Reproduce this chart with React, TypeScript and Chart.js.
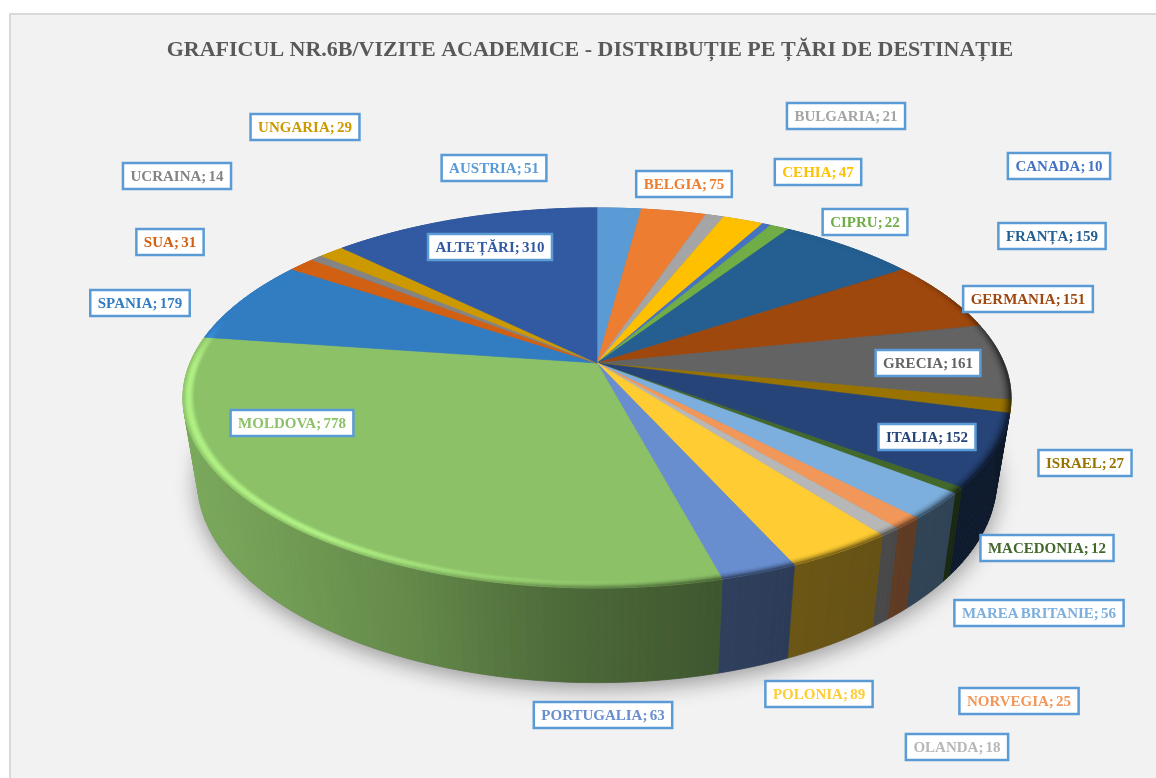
import React, { useEffect, useRef } from "react";
import { Chart, registerables } from "chart.js";

Chart.register(...registerables);

const TITLE = "GRAFICUL NR.6B/VIZITE ACADEMICE - DISTRIBUȚIE PE ȚĂRI DE DESTINAȚIE";
const categories = ["AUSTRIA", "BELGIA", "BULGARIA", "CEHIA", "CANADA", "CIPRU", "FRANȚA", "GERMANIA", "GRECIA", "ISRAEL", "ITALIA", "MACEDONIA", "MAREA BRITANIE", "NORVEGIA", "OLANDA", "POLONIA", "PORTUGALIA", "MOLDOVA", "SPANIA", "SUA", "UCRAINA", "UNGARIA", "ALTE ȚĂRI"];
const values = [51, 75, 21, 47, 10, 22, 159, 151, 161, 27, 152, 12, 56, 25, 18, 89, 63, 778, 179, 31, 14, 29, 310];
const colors = ["#5B9BD5", "#ED7D31", "#A5A5A5", "#FFC000", "#4472C4", "#70AD47", "#255E91", "#9E480E", "#636363", "#997300", "#264478", "#43682B", "#7CAFDD", "#F1975A", "#B7B7B7", "#FFCD33", "#698ED0", "#8CC168", "#327DC2", "#D26012", "#848484", "#CC9A00", "#325AA2"];
// centres of the label boxes, in page pixels
const labelCentres: [number, number][] = [[494, 168], [684, 184], [846, 116], [818, 172], [1059, 166], [865, 222], [1052, 236], [1028, 299], [928, 363], [1085, 463], [927, 437], [1047, 548], [1039, 613], [1019, 701], [957, 747], [819, 694], [603, 715], [292, 423], [140, 303], [170, 242], [177, 176], [305, 127], [490, 247]];

const CX = 597, CY = 363, RX = 407, RY = 183.6, PERSP = 0.184;
const BEVEL = 0.026;

type P = [number, number];
const proj = (r: number, a: number): P => {
  const u = r * Math.cos(a), v = r * Math.sin(a), w = 1 - PERSP * v;
  return [CX + (RX * u) / w, CY + (RY * v) / w];
};
const lower = (p: P): P => [CX + 0.965 * (p[0] - CX), CY + 1.065 * (p[1] - CY) + 80];
const rgb = (h: string): number[] => [1, 3, 5].map((i) => parseInt(h.slice(i, i + 2), 16));
const css = (c: number[]) => `rgb(${c.map((x) => Math.min(255, Math.round(x))).join(",")})`;
const mix = (a: number[], b: number[], t: number) => a.map((x, i) => x + (b[i] - x) * t);
const WALL: [number, number][] = [[190, 0.88], [400, 0.72], [560, 0.55], [720, 0.45], [800, 0.42], [1000, 0.37]];
const wallFactor = (x: number) => {
  if (x <= WALL[0][0]) return WALL[0][1];
  for (let i = 1; i < WALL.length; i++) {
    if (x <= WALL[i][0]) {
      const t = (x - WALL[i - 1][0]) / (WALL[i][0] - WALL[i - 1][0]);
      return WALL[i - 1][1] + (WALL[i][1] - WALL[i - 1][1]) * t;
    }
  }
  return WALL[WALL.length - 1][1];
};
const quad = (ctx: CanvasRenderingContext2D, pts: P[], fill: string) => {
  ctx.beginPath();
  pts.forEach((p, i) => (i ? ctx.lineTo(p[0], p[1]) : ctx.moveTo(p[0], p[1])));
  ctx.closePath();
  ctx.fillStyle = fill;
  ctx.strokeStyle = fill;
  ctx.lineWidth = 0.6;
  ctx.fill();
  ctx.stroke();
};
const STEP = Math.PI / 180;
const segments = (s: number, e: number) => {
  const n = Math.max(1, Math.ceil((e - s) / STEP));
  return Array.from({ length: n }, (_, i) => [s + ((e - s) * i) / n, s + ((e - s) * (i + 1)) / n]);
};
const clamp01 = (x: number) => Math.max(0, Math.min(1, x));

const pie3d = {
  id: "pie3d",
  beforeDraw(chart: any) {
    const ctx = chart.ctx as CanvasRenderingContext2D;
    ctx.save();
    ctx.fillStyle = "#ffffff";
    ctx.fillRect(0, 0, chart.width, chart.height);
    ctx.fillStyle = "#f2f2f2";
    ctx.fillRect(10, 14, chart.width, chart.height);
    ctx.strokeStyle = "#d9d9d9";
    ctx.lineWidth = 2;
    ctx.strokeRect(10, 14, chart.width + 20, chart.height + 20);
    ctx.restore();
  },
  beforeDatasetDraw(chart: any) {
    const ctx = chart.ctx as CanvasRenderingContext2D;
    const arcs = chart.getDatasetMeta(0).data as any[];
    ctx.save();
    // soft shadow under the disc
    const outline: P[] = [];
    for (let i = 0; i <= 360; i++) outline.push(lower(proj(1, (i * Math.PI) / 180)));
    ctx.save();
    ctx.shadowColor = "rgba(0,0,0,0.38)";
    ctx.shadowBlur = 22;
    ctx.shadowOffsetX = 0;
    ctx.shadowOffsetY = 5;
    quad(ctx, outline, "#777777");
    ctx.restore();
    // side walls
    arcs.forEach((arc, idx) => {
      const base = rgb(colors[idx]);
      segments(arc.startAngle, arc.endAngle).forEach(([a, b]) => {
        const pa = proj(1, a), pb = proj(1, b);
        const f = wallFactor((pa[0] + pb[0]) / 2);
        quad(ctx, [pa, pb, lower(pb), lower(pa)], css(base.map((c) => c * f)));
      });
    });
    // top faces
    arcs.forEach((arc, idx) => {
      const pts: P[] = [[CX, CY]];
      segments(arc.startAngle, arc.endAngle).forEach(([a]) => pts.push(proj(1, a)));
      pts.push(proj(1, arc.endAngle));
      quad(ctx, pts, colors[idx]);
    });
    // bevelled rim
    const LEVELS = 7;
    arcs.forEach((arc, idx) => {
      const base = rgb(colors[idx]);
      const bright = base.map((c) => c * 1.22 + 6);
      segments(arc.startAngle, arc.endAngle).forEach(([a, b]) => {
        const theta = ((((a + b) / 2 + Math.PI / 2) * 180) / Math.PI + 360) % 360;
        const hi = clamp01((theta - 165) / 50) * clamp01((285 - theta) / 15);
        const dark = clamp01((theta - 55) / 35) * clamp01((215 - theta) / 50);
        const mid = (a + b) / 2;
        const f = wallFactor(proj(1, mid)[0]);
        const wall = base.map((c) => c * f);
        for (let l = 0; l < LEVELS; l++) {
          const r0 = 1 - BEVEL + (BEVEL * l) / LEVELS;
          const r1 = 1 - BEVEL + (BEVEL * (l + 1)) / LEVELS;
          const t = (l + 0.5) / LEVELS;
          let c = mix(base, bright, hi * Math.sin(Math.PI * t));
          c = mix(c, wall, dark * t * t);
          quad(ctx, [proj(r0, a), proj(r0, b), proj(r1, b), proj(r1, a)], css(c));
        }
      });
    });
    ctx.restore();
    return false;
  },
  afterDatasetsDraw(chart: any) {
    const ctx = chart.ctx as CanvasRenderingContext2D;
    ctx.save();
    (ctx as any).wordSpacing = "-1.5px";
    ctx.font = "bold 15px 'Liberation Serif'";
    ctx.textAlign = "center";
    ctx.textBaseline = "middle";
    categories.forEach((name, i) => {
      const text = `${name}; ${values[i]}`;
      const w = ctx.measureText(text).width + 15;
      const h = 26;
      const [x, y] = labelCentres[i];
      ctx.fillStyle = "#ffffff";
      ctx.fillRect(x - w / 2, y - h / 2, w, h);
      ctx.strokeStyle = "#5B9BD5";
      ctx.lineWidth = 2.5;
      ctx.strokeRect(x - w / 2, y - h / 2, w, h);
      ctx.fillStyle = colors[i];
      ctx.fillText(text, x, y + 1);
    });
    ctx.restore();
  },
};

export default function App() {
  const ref = useRef<HTMLCanvasElement>(null);
  useEffect(() => {
    document.body.style.margin = "0";
    const chart = new Chart(ref.current!, {
      type: "pie",
      data: { labels: categories, datasets: [{ data: values, backgroundColor: colors, borderWidth: 0 }] },
      options: {
        responsive: false,
        animation: false,
        events: [],
        layout: { padding: { left: 24, right: 0, top: 0, bottom: 0 } },
        plugins: {
          legend: { display: false },
          tooltip: { enabled: false },
          title: {
            display: true,
            text: TITLE,
            color: "#595959",
            font: { family: "'Liberation Serif'", size: 22, weight: "bold", lineHeight: 1.2 },
            padding: { top: 37, bottom: 0 },
          },
        },
      },
      plugins: [pie3d],
    } as any);
    return () => chart.destroy();
  }, []);
  return <canvas ref={ref} width={1156} height={778} style={{ display: "block", width: 1156, height: 778, filter: "blur(0.4px)" }} />;
}
